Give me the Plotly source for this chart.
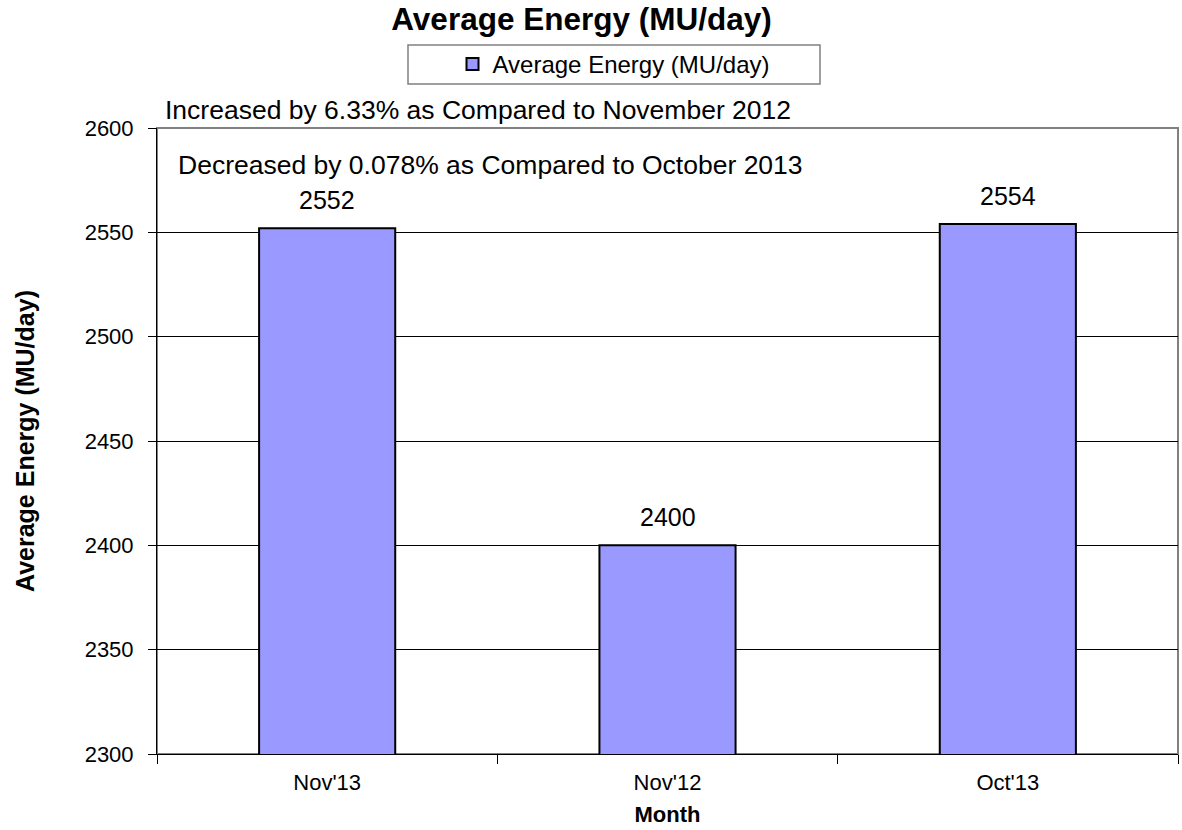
import plotly.graph_objects as go

months = ["Nov'13", "Nov'12", "Oct'13"]
energy = [2552, 2400, 2554]
series_name = "Average Energy (MU/day)"
notes = ["Increased by 6.33% as Compared to November 2012",
         "Decreased by 0.078% as Compared to October 2013"]

FONT = "Liberation Sans, Arial, sans-serif"
L, R, T, B = 157, 4, 128, 76
W, H = 1182, 830
PW, PH = W - L - R, H - T - B


def px(x):
    return (x - L) / PW


def py(y):
    return (H - B - y) / PH


fig = go.Figure()
fig.add_trace(go.Bar(
    x=months, y=energy, name=series_name, width=0.4,
    marker=dict(color="#9999FF", line=dict(color="black", width=2)),
    showlegend=True,
))

for m, v in zip(months, energy):
    fig.add_annotation(x=m, y=v, text=str(v), showarrow=False, yanchor="middle",
                       yshift=28, font=dict(size=25, color="black", family=FONT))

fig.add_annotation(x=px(163), xref="paper", y=py(110), yref="paper",
                   xanchor="left", yanchor="middle", text=notes[0], showarrow=False,
                   font=dict(size=26.5, color="black", family=FONT))
fig.add_annotation(x=px(176), xref="paper", y=py(165), yref="paper",
                   xanchor="left", yanchor="middle", text=notes[1], showarrow=False,
                   font=dict(size=26.5, color="black", family=FONT))

# plot border (grey) and legend box
fig.add_shape(type="rect", xref="paper", yref="paper", x0=0, x1=1, y0=0, y1=1,
              line=dict(color="#808080", width=2), layer="below")
fig.add_shape(type="rect", xref="paper", yref="paper", x0=px(408), x1=px(820),
              y0=py(84), y1=py(45), line=dict(color="#808080", width=1.5),
              fillcolor="rgba(0,0,0,0)")

fig.update_layout(
    width=W, height=H,
    margin=dict(l=L, r=R, t=T, b=B, autoexpand=False),
    paper_bgcolor="white", plot_bgcolor="white",
    font=dict(family=FONT, size=22, color="black"),
    title=dict(text="<b>Average Energy (MU/day)</b>", x=581.5 / W, xanchor="center",
               xref="container", y=1 - 19 / H, yanchor="middle",
               font=dict(size=31.5, family=FONT, color="black")),
    legend=dict(orientation="h", x=px(614), xanchor="center", y=py(64.5), yanchor="middle",
                borderwidth=0, bgcolor="rgba(0,0,0,0)", font=dict(size=24, family=FONT),
                itemwidth=30),
    showlegend=True,
)

fig.update_xaxes(
    title=dict(text="<b>Month</b>", font=dict(size=22, family=FONT), standoff=12),
    showline=True, linecolor="black", linewidth=1, automargin=False,
    ticks="outside", tickson="boundaries", ticklen=9, tickcolor="black",
    ticklabelstandoff=9,
    showgrid=False, tickfont=dict(size=22),
)
fig.update_yaxes(
    title=dict(text="<b>Average Energy (MU/day)</b>", font=dict(size=25, family=FONT), standoff=42),
    range=[2300, 2600], dtick=50, tick0=2300, automargin=False,
    showline=True, linecolor="black", linewidth=1,
    ticks="outside", ticklen=8, tickcolor="black",
    ticklabelstandoff=10,
    showgrid=True, gridcolor="black", gridwidth=1,
    tickfont=dict(size=22), zeroline=False,
)

fig.write_html("out.html", config={"displayModeBar": False},
               post_script="document.body.style.margin='0px';document.body.style.overflow='hidden';")
